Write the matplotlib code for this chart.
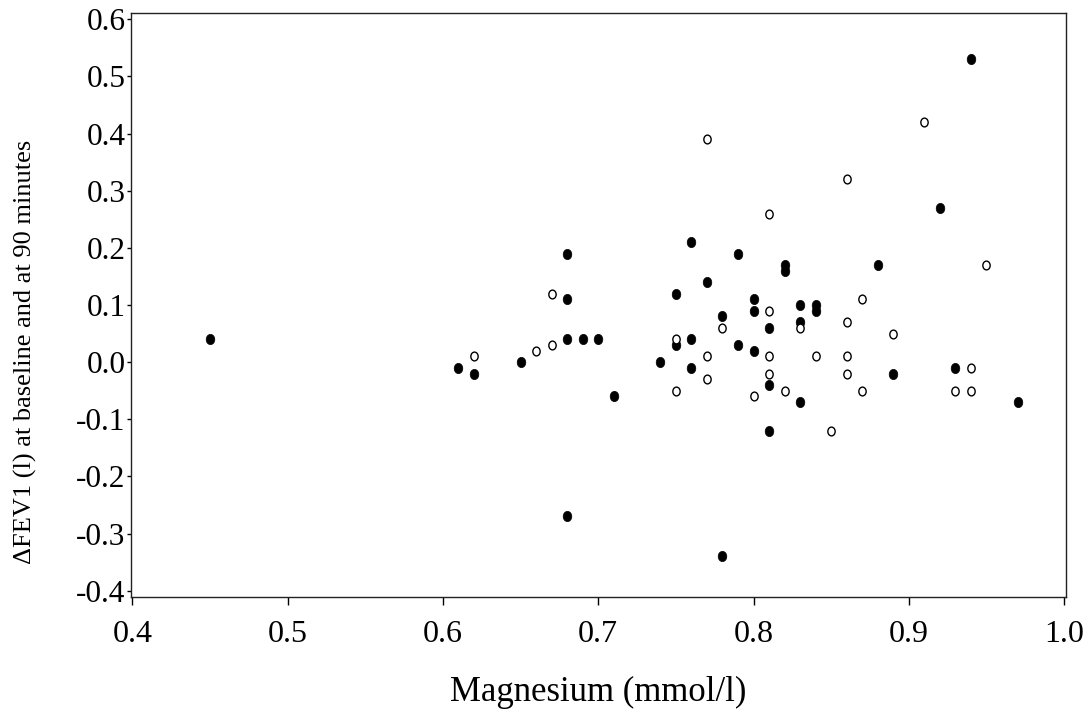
import matplotlib
matplotlib.use("Agg")
import matplotlib.pyplot as plt
from matplotlib.path import Path
from matplotlib.transforms import Affine2D

# Filled circles
filled_x = [0.45, 0.61, 0.62, 0.65, 0.68, 0.68, 0.68, 0.68, 0.69, 0.70, 0.71, 0.74,
            0.75, 0.75, 0.76, 0.76, 0.76, 0.77, 0.78, 0.78, 0.79, 0.79, 0.80, 0.80,
            0.80, 0.81, 0.81, 0.81, 0.82, 0.82, 0.83, 0.83, 0.83, 0.84, 0.84, 0.88,
            0.89, 0.92, 0.93, 0.94, 0.97]
filled_y = [0.04, -0.01, -0.02, 0.00, 0.19, 0.11, 0.04, -0.27, 0.04, 0.04, -0.06, 0.00,
            0.12, 0.03, 0.21, 0.04, -0.01, 0.14, 0.08, -0.34, 0.19, 0.03, 0.11, 0.09,
            0.02, 0.06, -0.04, -0.12, 0.17, 0.16, 0.10, 0.07, -0.07, 0.10, 0.09, 0.17,
            -0.02, 0.27, -0.01, 0.53, -0.07]

# Open circles
open_x = [0.62, 0.66, 0.67, 0.67, 0.75, 0.75, 0.77, 0.77, 0.77, 0.78, 0.80, 0.81,
          0.81, 0.81, 0.81, 0.82, 0.83, 0.84, 0.85, 0.86, 0.86, 0.86, 0.86, 0.87,
          0.87, 0.89, 0.91, 0.93, 0.94, 0.94, 0.95]
open_y = [0.01, 0.02, 0.03, 0.12, 0.04, -0.05, 0.39, 0.01, -0.03, 0.06, -0.06, 0.26,
          0.09, 0.01, -0.02, -0.05, 0.06, 0.01, -0.12, 0.32, 0.07, 0.01, -0.02, 0.11,
          -0.05, 0.05, 0.42, -0.05, -0.01, -0.05, 0.17]

x_ticks = [0.4, 0.5, 0.6, 0.7, 0.8, 0.9, 1.0]
y_ticks = [-0.4, -0.3, -0.2, -0.1, 0.0, 0.1, 0.2, 0.3, 0.4, 0.5, 0.6]

plt.rcParams['font.family'] = ['Liberation Serif', 'DejaVu Serif']

fig = plt.figure(figsize=(10.91, 7.19), dpi=100)
ax = fig.add_axes([131/1091, 1 - 596.7/719, (1066-131)/1091, (596.7-13.3)/719])

ell = Path.unit_circle().transformed(Affine2D().scale(1.0, 1.2))

ax.scatter(filled_x, filled_y, marker=ell, s=55, facecolors='black',
           edgecolors='black', linewidths=0.5, zorder=3)
ax.scatter(open_x, open_y, marker=ell, s=40, facecolors='white',
           edgecolors='black', linewidths=1.0, zorder=3)

ax.set_xlim(0.39916, 1.00122)
ax.set_ylim(-0.4104, 0.6106)
ax.set_xticks(x_ticks)
ax.set_xticklabels([f"{v:.1f}" for v in x_ticks])
ax.set_yticks(y_ticks)
ax.set_yticklabels([f"{v:.1f}" for v in y_ticks])

ax.tick_params(axis='x', direction='out', length=6, width=1, labelsize=23, pad=11)
ax.tick_params(axis='y', direction='out', length=3, width=1, labelsize=22.5, pad=1)

for sp in ax.spines.values():
    sp.set_linewidth(1.0)
    sp.set_color('#222222')

ax.set_xlabel("Magnesium (mmol/l)", fontsize=25, labelpad=19)
fig.text(25/1091, 1 - 352/719, "ΔFEV1 (l) at baseline and at 90 minutes",
         rotation=90, fontsize=19, ha='center', va='center')

fig.savefig("out.png", dpi=100)
